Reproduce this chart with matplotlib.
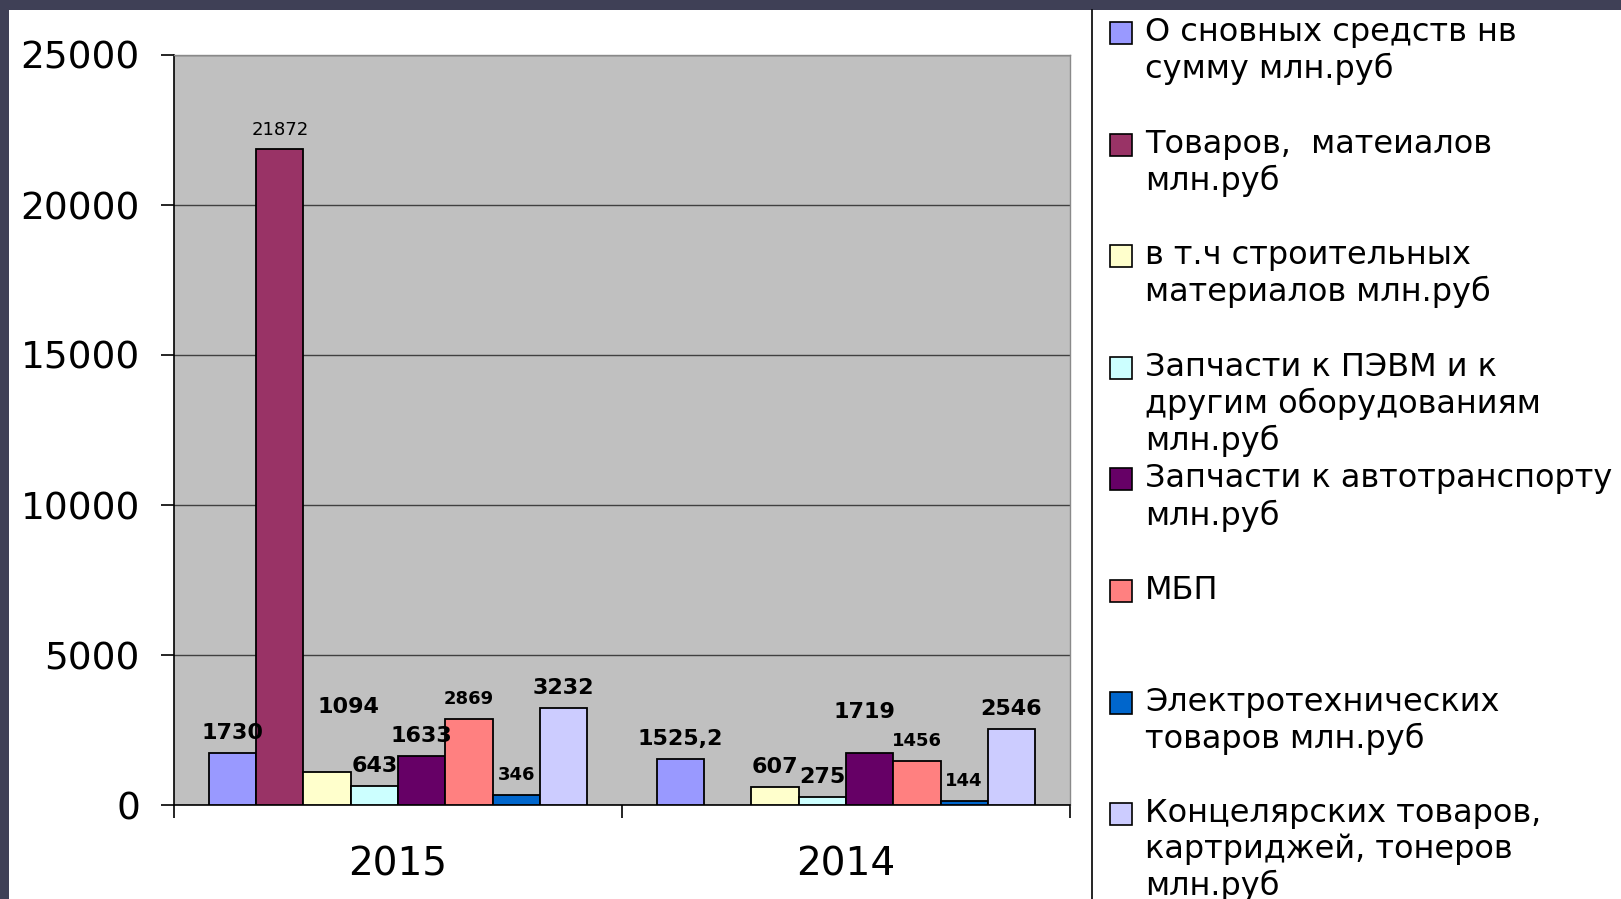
import numpy as np
import matplotlib
matplotlib.use("Agg")
import matplotlib.pyplot as plt
from matplotlib.patches import Rectangle
from matplotlib.lines import Line2D

plt.rcParams['font.family'] = ['DejaVu Sans']

# ---------------- data ----------------
years = ["2015", "2014"]
series_labels = [
    "О сновных средств нв\nсумму млн.руб",
    "Товаров,  матеиалов\nмлн.руб",
    "в т.ч строительных\nматериалов млн.руб",
    "Запчасти к ПЭВМ и к\nдругим оборудованиям\nмлн.руб",
    "Запчасти к автотранспорту\nмлн.руб",
    "МБП",
    "Электротехнических\nтоваров млн.руб",
    "Концелярских товаров,\nкартриджей, тонеров\nмлн.руб",
]
values_2015 = [1730, 21872, 1094, 643, 1633, 2869, 346, 3232]
values_2014 = [1525.2, np.nan, 607, 275, 1719, 1456, 144, 2546]
yticks = [0, 5000, 10000, 15000, 20000, 25000]

# ---------------- styles ----------------
colors = ["#9999FF", "#993366", "#FFFFCC", "#CCFFFF",
          "#660066", "#FF8080", "#0066CC", "#CCCCFF"]
# label style per (year index, series index): (fontsize, weight, dx px, dy px)
default_style = (16, 'bold', 0, 20)
special_style = {
    (0, 1): (13, 'normal', 0, 19),
    (0, 2): (16, 'bold', 21, 65),
    (0, 5): (13, 'bold', 0, 20),
    (0, 6): (13, 'bold', 0, 20),
    (1, 4): (16, 'bold', -5, 41),
    (1, 5): (13, 'bold', 0, 20),
    (1, 6): (13, 'bold', 0, 20),
}

W, H = 1621, 899
fig = plt.figure(figsize=(W / 100, H / 100), dpi=100)
fig.patch.set_facecolor('white')

# dark frame (top and left)
frame_col = "#3f4056"
fig.add_artist(Rectangle((0, 1 - 10 / H), 1, 10 / H, transform=fig.transFigure,
                         facecolor=frame_col, edgecolor='none', zorder=0))
fig.add_artist(Rectangle((0, 0), 9 / W, 1, transform=fig.transFigure,
                         facecolor=frame_col, edgecolor='none', zorder=0))
# separator line
fig.add_artist(Line2D([1092 / W, 1092 / W], [0, 1 - 10 / H], transform=fig.transFigure,
                      color='black', lw=1.2))

left, right, bottom, top = 174 / W, 1070 / W, 1 - 805 / H, 1 - 55 / H
ax = fig.add_axes([left, bottom, right - left, top - bottom])
ax.set_facecolor("#C0C0C0")

all_vals = [values_2015, values_2014]
n = len(series_labels)
w = 0.1055
x = np.arange(len(years))
for i in range(n):
    vals = [all_vals[0][i], all_vals[1][i]]
    xs = x + (i - (n - 1) / 2) * w
    ax.bar(xs, vals, width=w, color=colors[i], edgecolor='black', linewidth=1.3, zorder=3)
    for yi, (xx, v) in enumerate(zip(xs, vals)):
        if np.isnan(v):
            continue
        fs, fw, dx, dy = special_style.get((yi, i), default_style)
        txt = (f"{v:g}").replace('.', ',')
        ax.annotate(txt, (xx, v), xytext=(dx, dy), textcoords='offset pixels',
                    ha='center', va='center', fontsize=fs, fontweight=fw,
                    color='black', zorder=4)

ax.set_xlim(-0.5, len(years) - 0.5)
ax.set_ylim(0, 25000)
ax.set_yticks(yticks)
ax.set_yticklabels([str(t) for t in yticks], fontsize=27)
ax.yaxis.grid(True, color='#404040', lw=1.0, zorder=1)
ax.set_axisbelow(True)
ax.set_xticks(x)
ax.set_xticklabels(years, fontsize=28)
ax.set_xticks(np.arange(len(years) + 1) - 0.5, minor=True)
ax.tick_params(axis='x', which='major', length=0, pad=29)
ax.tick_params(axis='x', which='minor', length=9, width=1.2, direction='out', color='black')
ax.tick_params(axis='y', length=9.5, width=1.2, direction='out', pad=15, color='black')
for s in ['top', 'right']:
    ax.spines[s].set_color('#8a8a8a')
    ax.spines[s].set_linewidth(1.0)
for s in ['left', 'bottom']:
    ax.spines[s].set_color('black')
    ax.spines[s].set_linewidth(1.2)

# manual legend with uniform spacing
y0, step = 33, 111.6
sq = 22
for i, lab in enumerate(series_labels):
    yc = y0 + i * step
    fig.add_artist(Rectangle((1110 / W, 1 - (yc + sq / 2) / H), sq / W, sq / H,
                             transform=fig.transFigure, facecolor=colors[i],
                             edgecolor='black', lw=1.2))
    fig.text(1145 / W, 1 - (yc - 16) / H, lab, fontsize=23, va='top', ha='left',
             linespacing=1.19, color='black')

fig.savefig("out.png", dpi=100)
